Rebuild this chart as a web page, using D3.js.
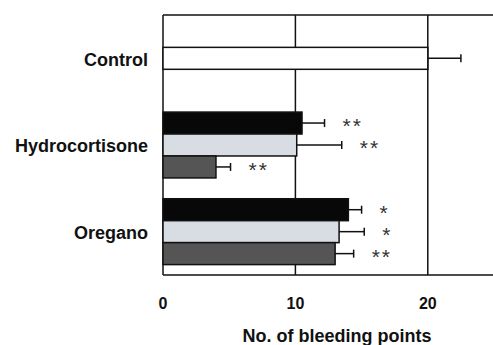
<!DOCTYPE html>
<html>
<head>
<meta charset="utf-8">
<script src="https://cdn.jsdelivr.net/npm/d3@7"></script>
<style>
  body { margin: 0; background: #fff; }
  svg { display: block; font-family: "Liberation Sans", Arial, sans-serif; }
</style>
</head>
<body>
<svg id="chart" width="493" height="345"></svg>
<script>
// groups down the y axis
const groups = ["Control", "Hydrocortisone", "Oregano"];
// mean number of bleeding points, one entry per bar in the group
const means = [[20.0], [10.5, 10.1, 4.0], [14.0, 13.3, 13.0]];
// error (one-sided)
const errors = [[2.5], [1.7, 3.4, 1.1], [1.0, 1.9, 1.4]];
// significance marks
const marks = [[""], ["**", "**", "**"], ["*", "*", "**"]];
const xTicks = [0, 10, 20];
const xTitle = "No. of bleeding points";

const fills = { single: "#ffffff", multi: ["#080808", "#d8dde3", "#555555"] };

const width = 493, height = 345;
const margin = { top: 15, left: 163, bottom: 70 };

const svg = d3.select("#chart");

const x = d3.scaleLinear().domain([0, 25]).range([margin.left, margin.left + 331]);
const y = d3.scaleBand().domain(groups).range([margin.top, height - margin.bottom])
  .paddingInner(0.24).paddingOuter(0.12);
const barH = y.bandwidth() / 3;

const plot = svg.append("g");

// frame + grid lines
plot.append("line")
  .attr("x1", x(0)).attr("x2", width).attr("y1", margin.top).attr("y2", margin.top)
  .attr("stroke", "#111").attr("stroke-width", 1.5);
plot.append("line")
  .attr("x1", x(0)).attr("x2", width).attr("y1", height - margin.bottom).attr("y2", height - margin.bottom)
  .attr("stroke", "#111").attr("stroke-width", 1.5);
plot.selectAll("line.grid").data(xTicks).enter().append("line")
  .attr("class", "grid")
  .attr("x1", (d) => x(d)).attr("x2", (d) => x(d))
  .attr("y1", margin.top).attr("y2", height - margin.bottom)
  .attr("stroke", "#111").attr("stroke-width", 1.5);

// flatten bars
const bars = [];
groups.forEach((g, gi) => {
  const n = means[gi].length;
  means[gi].forEach((v, si) => {
    const yTop = y(g) + y.bandwidth() / 2 - (n * barH) / 2 + si * barH;
    bars.push({
      group: g, value: v, err: errors[gi][si], mark: marks[gi][si],
      y: yTop, fill: n === 1 ? fills.single : fills.multi[si]
    });
  });
});

plot.selectAll("rect.bar").data(bars).enter().append("rect")
  .attr("class", "bar")
  .attr("x", x(0))
  .attr("y", (d) => d.y)
  .attr("width", (d) => x(d.value) - x(0))
  .attr("height", barH)
  .attr("fill", (d) => d.fill)
  .attr("stroke", "#111")
  .attr("stroke-width", 1.5);

// error bars
const eb = plot.selectAll("g.err").data(bars).enter().append("g").attr("class", "err");
eb.append("line")
  .attr("x1", (d) => x(d.value)).attr("x2", (d) => x(d.value + d.err))
  .attr("y1", (d) => d.y + barH / 2).attr("y2", (d) => d.y + barH / 2)
  .attr("stroke", "#111").attr("stroke-width", 1.5);
eb.append("line")
  .attr("x1", (d) => x(d.value + d.err)).attr("x2", (d) => x(d.value + d.err))
  .attr("y1", (d) => d.y + barH / 2 - 4).attr("y2", (d) => d.y + barH / 2 + 4)
  .attr("stroke", "#111").attr("stroke-width", 1.5);

// significance stars
plot.selectAll("text.mark").data(bars.filter((d) => d.mark)).enter().append("text")
  .attr("class", "mark")
  .attr("x", (d) => x(d.value + d.err) + 18)
  .attr("y", (d) => d.y + barH / 2 + 10)
  .attr("font-size", 21)
  .attr("letter-spacing", 2)
  .attr("fill", "#333")
  .text((d) => d.mark);

// category labels
svg.selectAll("text.cat").data(groups).enter().append("text")
  .attr("class", "cat")
  .attr("x", 148)
  .attr("y", (d) => y(d) + y.bandwidth() / 2 + 1)
  .attr("dy", "0.36em")
  .attr("text-anchor", "end")
  .attr("font-weight", "bold")
  .attr("font-size", 18)
  .attr("fill", "#111")
  .text((d) => d);

// x tick labels
svg.selectAll("text.tick").data(xTicks).enter().append("text")
  .attr("class", "tick")
  .attr("x", (d) => x(d))
  .attr("y", 303)
  .attr("dy", "0.36em")
  .attr("text-anchor", "middle")
  .attr("font-weight", "bold")
  .attr("font-size", 16)
  .attr("fill", "#111")
  .text((d) => d);

svg.append("text")
  .attr("x", 337)
  .attr("y", 342)
  .attr("text-anchor", "middle")
  .attr("font-weight", "bold")
  .attr("font-size", 18)
  .attr("fill", "#111")
  .text(xTitle);
</script>
</body>
</html>
